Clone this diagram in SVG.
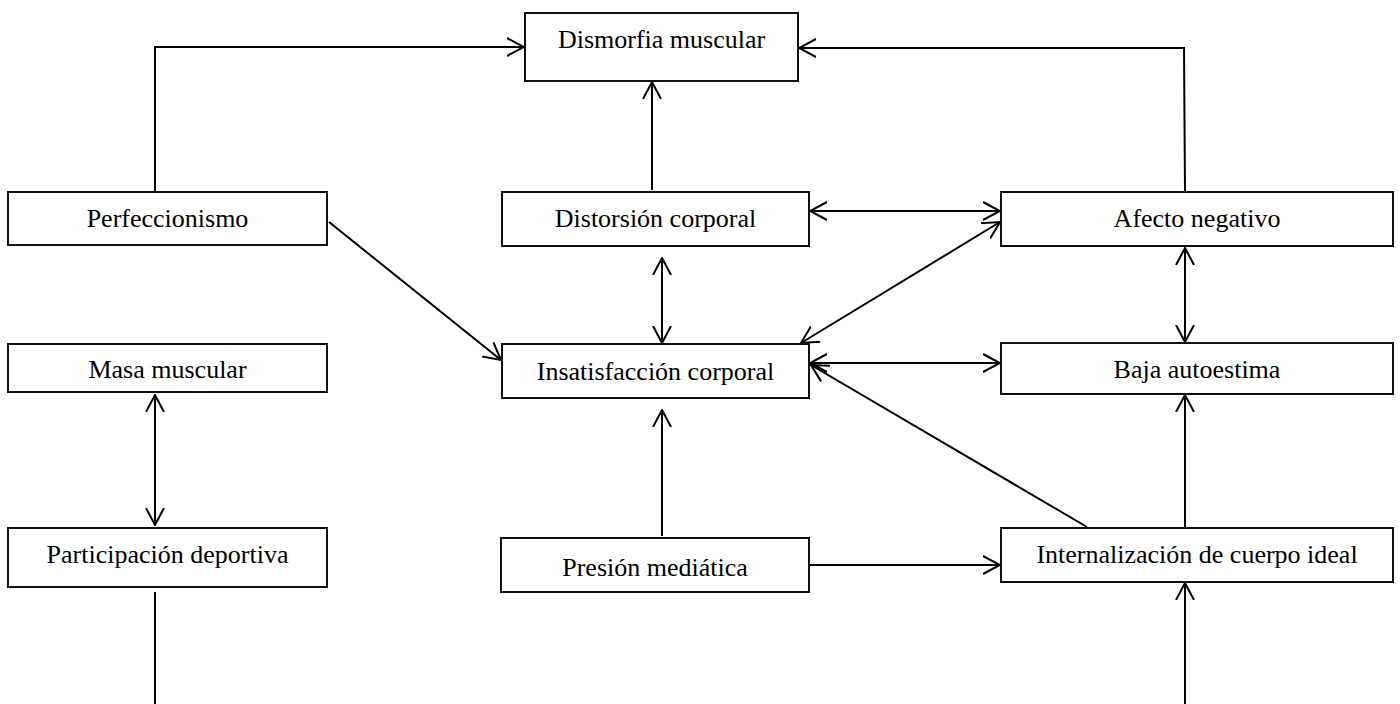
<svg xmlns="http://www.w3.org/2000/svg" width="1400" height="704" viewBox="0 0 1400 704">
<defs>
<marker id="ah" viewBox="0 0 18 20" refX="17" refY="10" markerWidth="18" markerHeight="20" markerUnits="userSpaceOnUse" orient="auto-start-reverse">
<path d="M0,1 L17,10 L0,19" fill="none" stroke="#000" stroke-width="2"/>
</marker>
<style>
.box{fill:#fff;stroke:#111;stroke-width:2}
.t{font-family:"Liberation Serif","Times New Roman",serif;font-size:26px;fill:#000;text-anchor:middle}
.c{fill:none;stroke:#000;stroke-width:2}
</style>
</defs>
<rect width="1400" height="704" fill="#fff"/>
<g id="connectors">
<polyline class="c" points="155,192 155,47 524,47" marker-end="url(#ah)"/>
<polyline class="c" points="1185,192 1184,48 799,48" marker-end="url(#ah)"/>
<line class="c" x1="652" y1="190" x2="652" y2="82" marker-end="url(#ah)"/>
<line class="c" x1="810" y1="211" x2="1000" y2="211" marker-start="url(#ah)" marker-end="url(#ah)"/>
<line class="c" x1="662" y1="258" x2="662" y2="343" marker-start="url(#ah)" marker-end="url(#ah)"/>
<line class="c" x1="1000" y1="222" x2="801" y2="343" marker-start="url(#ah)" marker-end="url(#ah)"/>
<line class="c" x1="329" y1="222" x2="501" y2="360" marker-end="url(#ah)"/>
<line class="c" x1="810" y1="363" x2="1000" y2="363" marker-start="url(#ah)" marker-end="url(#ah)"/>
<line class="c" x1="1185" y1="248" x2="1185" y2="342" marker-start="url(#ah)" marker-end="url(#ah)"/>
<line class="c" x1="662" y1="536" x2="662" y2="410" marker-end="url(#ah)"/>
<line class="c" x1="810" y1="565" x2="1000" y2="565" marker-end="url(#ah)"/>
<line class="c" x1="1087" y1="527" x2="811" y2="365" marker-end="url(#ah)"/>
<line class="c" x1="1185" y1="527" x2="1185" y2="395" marker-end="url(#ah)"/>
<line class="c" x1="1185" y1="704" x2="1185" y2="583" marker-end="url(#ah)"/>
<line class="c" x1="155" y1="395" x2="155" y2="525" marker-start="url(#ah)" marker-end="url(#ah)"/>
<line class="c" x1="155" y1="592" x2="155" y2="704"/>
</g>
<g id="n-dismorfia"><rect class="box" x="525" y="13" width="273" height="68"/><text class="t" x="661.5" y="48">Dismorfia muscular</text></g>
<g id="n-perfeccionismo"><rect class="box" x="8" y="192" width="319" height="53"/><text class="t" x="167.5" y="227">Perfeccionismo</text></g>
<g id="n-distorsion"><rect class="box" x="502" y="192" width="307" height="54"/><text class="t" x="655.5" y="227">Distorsión corporal</text></g>
<g id="n-afecto"><rect class="box" x="1001" y="192" width="392" height="54"/><text class="t" x="1197" y="227">Afecto negativo</text></g>
<g id="n-masa"><rect class="box" x="8" y="344" width="319" height="48"/><text class="t" x="167.5" y="378">Masa muscular</text></g>
<g id="n-insatisfaccion"><rect class="box" x="502" y="344" width="307" height="54"/><text class="t" x="655.5" y="380">Insatisfacción corporal</text></g>
<g id="n-baja"><rect class="box" x="1001" y="343" width="392" height="51"/><text class="t" x="1197" y="378">Baja autoestima</text></g>
<g id="n-participacion"><rect class="box" x="8" y="528" width="319" height="59"/><text class="t" x="167.5" y="563">Participación deportiva</text></g>
<g id="n-presion"><rect class="box" x="501" y="538" width="308" height="54"/><text class="t" x="655" y="576">Presión mediática</text></g>
<g id="n-internalizacion"><rect class="box" x="1001" y="528" width="392" height="54"/><text class="t" x="1197" y="563">Internalización de cuerpo ideal</text></g>
</svg>
